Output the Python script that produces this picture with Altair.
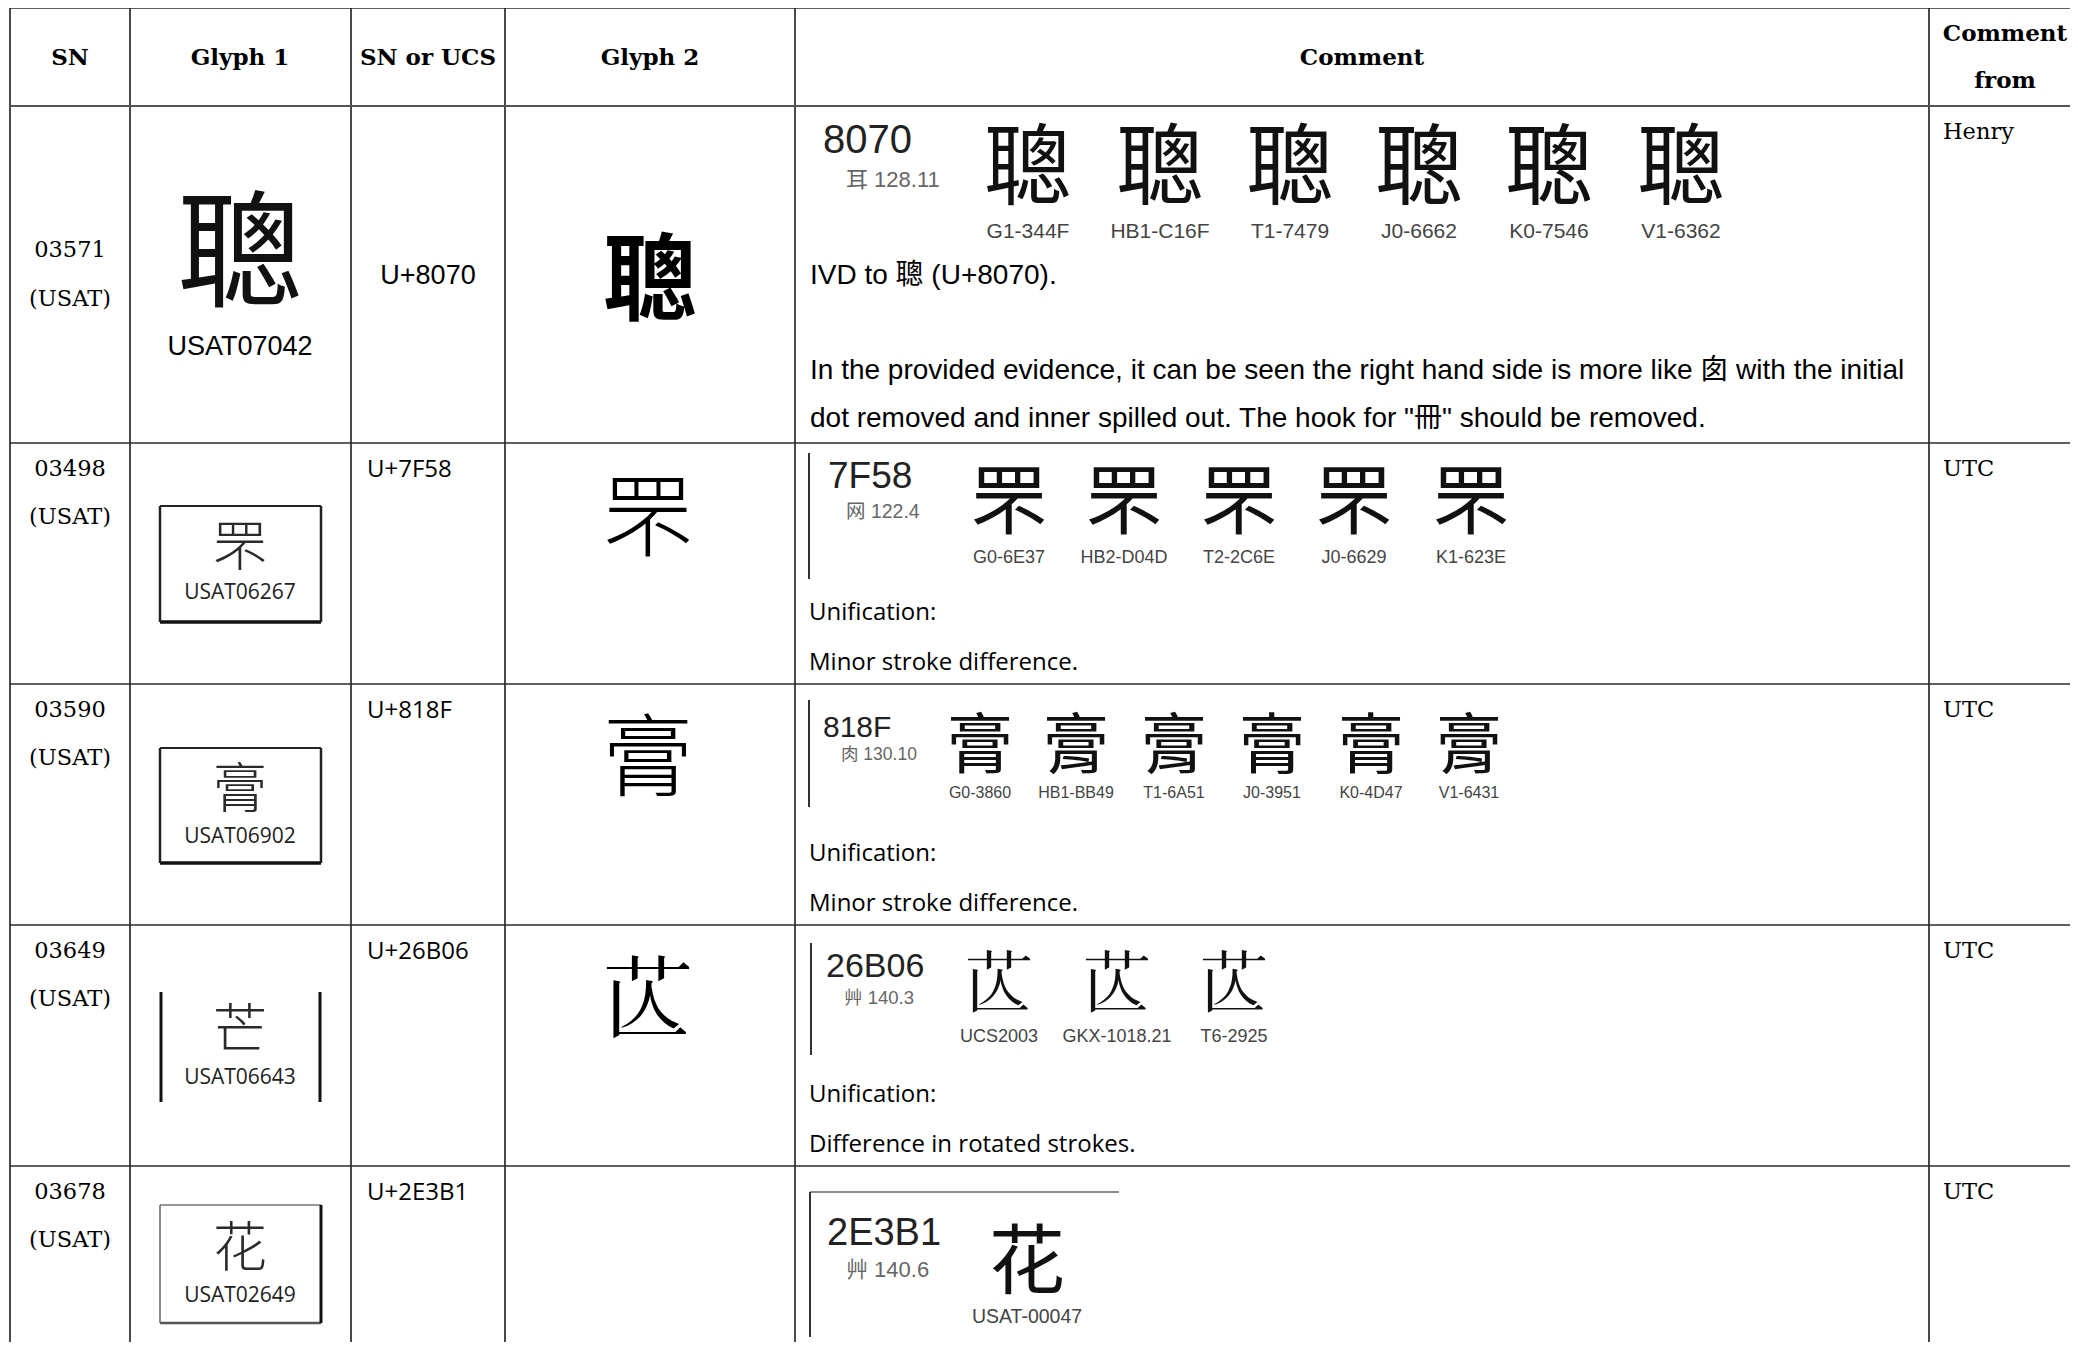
import altair as alt
import pandas as pd

W, H = 2062, 1334

# ---------------- table content ----------------
headers = ["SN", "Glyph 1", "SN or UCS", "Glyph 2", "Comment"]
header_last = ["Comment", "from"]
sn_codes = ["03571", "03498", "03590", "03649", "03678"]
sn_tag = "(USAT)"
glyph1_chars = ["聰", "罘", "膏", "芒", "花"]
glyph1_ids = ["USAT07042", "USAT06267", "USAT06902", "USAT06643", "USAT02649"]
ucs_codes = ["U+8070", "U+7F58", "U+818F", "U+26B06", "U+2E3B1"]
glyph2_chars = ["聰", "罘", "膏", chr(0x26B06), ""]
evid_codes = ["8070", "7F58", "818F", "26B06", "2E3B1"]
evid_radicals = ["耳 128.11", "网 122.4", "肉 130.10", "艸 140.3", "艸 140.6"]
evid_glyphs = ["聰", "罘", "膏", chr(0x26B06), "花"]
evid_sources = [
    ["G1-344F", "HB1-C16F", "T1-7479", "J0-6662", "K0-7546", "V1-6362"],
    ["G0-6E37", "HB2-D04D", "T2-2C6E", "J0-6629", "K1-623E"],
    ["G0-3860", "HB1-BB49", "T1-6A51", "J0-3951", "K0-4D47", "V1-6431"],
    ["UCS2003", "GKX-1018.21", "T6-2925"],
    ["USAT-00047"],
]
comment_row1 = [
    "IVD to 聰 (U+8070).",
    "In the provided evidence, it can be seen the right hand side is more like 囱 with the initial",
    'dot removed and inner spilled out. The hook for "冊" should be removed.',
]
comments_rest = [
    ["Unification:", "Minor stroke difference."],
    ["Unification:", "Minor stroke difference."],
    ["Unification:", "Difference in rotated strokes."],
    [],
]
comment_from = ["Henry", "UTC", "UTC", "UTC", "UTC"]

# ---------------- layout (page pixels) ----------------
col_edges = [10, 130, 351, 505, 795, 1929]
row_edges = [8, 106, 443, 684, 925, 1166]
col_centers = [70, 240, 428, 650, 1362]
ev_x = [
    [1028, 1160, 1290, 1419, 1549, 1681],
    [1009, 1124, 1239, 1354, 1471],
    [980, 1076, 1174, 1272, 1371, 1469],
    [999, 1117, 1234],
    [1027],
]
ev_glyph_y = [171, 505, 748, 988, 1265]
ev_label_y = [232, 558, 793, 1037, 1317]
ev_glyph_size = [88, 76, 66, 68, 76]
ev_label_size = [21, 18, 16, 18, 19.5]
ev_code_pos = [(823, 141, 40), (828, 477, 37), (823, 728, 30), (826, 967, 34), (827, 1234, 38)]
ev_rad_pos = [(846, 180, 22), (846, 512, 19.5), (841, 755, 17.5), (844, 998, 18.5), (846, 1270, 22)]
g2_off = [79, 78, 80, 80]

SANS = "Liberation Sans, Arial, Noto Sans CJK SC"
CAL = "Open Sans, Noto Sans CJK SC"
STYLES = {
    "head": ("DejaVu Serif", "bold", "center"),
    "serif_c": ("DejaVu Serif", "normal", "center"),
    "serif_l": ("DejaVu Serif", "normal", "left"),
    "arial_c": (SANS, "normal", "center"),
    "arial_l": (SANS, "normal", "left"),
    "cal_l": (CAL, "normal", "left"),
    "cal_c": (CAL, "normal", "center"),
    "cjk_sc": ("Noto Sans CJK SC", "normal", "center"),
    "cjk_light": ("Noto Sans CJK SC", 300, "center"),
    "cjk_tc": ("Noto Sans CJK TC", "normal", "center"),
    "cjk_jp": ("Noto Sans CJK JP", "normal", "center"),
    "cjk_kr": ("Noto Sans CJK KR", "normal", "center"),
    "cjk_bold": ("Noto Sans CJK TC", "bold", "center"),
}
src_font = {"G": "cjk_sc", "H": "cjk_tc", "T": "cjk_tc", "J": "cjk_jp",
            "K": "cjk_kr", "V": "cjk_tc", "U": "cjk_sc"}

items = []


def add(style, x, y, text, size, color="#000000"):
    items.append(dict(style=style, x=x, y=y, text=text, size=size, color=color))


# header
for cx, h in zip(col_centers, headers):
    add("head", cx, 58, h, 23)
add("head", 2005, 34, header_last[0], 23)
add("head", 2005, 81, header_last[1], 23)

for i in range(5):
    top = row_edges[i + 1]
    if i == 0:
        add("serif_c", 70, 250, sn_codes[i], 22.5)
        add("serif_c", 70, 299, sn_tag, 22.5)
        add("cjk_tc", 240, 259, glyph1_chars[i], 126, "#111111")
        add("arial_c", 240, 347, glyph1_ids[i], 27)
        add("arial_c", 428, 276, ucs_codes[i], 27)
        add("cjk_bold", 650, 285, glyph2_chars[i], 94)
        for j, line in enumerate(comment_row1):
            add("arial_l", 810, [276, 371, 419][j], line, 28)
    else:
        add("serif_c", 70, top + 26, sn_codes[i], 22.5)
        add("serif_c", 70, top + 74, sn_tag, 22.5)
        g_off, l_off = ([107, 150], [108, 153], [108, 153], [85, 130])[i - 1]
        add("cjk_light", 240, top + g_off, glyph1_chars[i], 54, "#2a2a2a")
        add("cal_c", 240, top + l_off, glyph1_ids[i], 21, "#222222")
        add("cal_l", 367, top + 27, ucs_codes[i], 24)
        if glyph2_chars[i]:
            add("cjk_light", 648, top + g2_off[i - 1], glyph2_chars[i], 90)
        for j, line in enumerate(comments_rest[i - 1]):
            add("cal_l", 809, top + [170, 220][j], line, 24)
    # evidence block
    cx, cy, cs = ev_code_pos[i]
    add("arial_l", cx, cy, evid_codes[i], cs, "#222222")
    rx, ry, rs = ev_rad_pos[i]
    add("arial_l", rx, ry, evid_radicals[i], rs, "#666666")
    for x, src in zip(ev_x[i], evid_sources[i]):
        add(src_font[src[0]], x, ev_glyph_y[i], evid_glyphs[i], ev_glyph_size[i], "#111111")
        add("arial_c", x, ev_label_y[i], src, ev_label_size[i], "#444444")
    add("serif_l", 1943, top + 26, comment_from[i], 22.5)

texts = pd.DataFrame(items)

# ---------------- lines ----------------
lines = []
for x in col_edges:
    lines.append(dict(x=x, x2=x, y=8, y2=1400, w=1.7, c="#2a2a2a"))
for k, y in enumerate(row_edges):
    lines.append(dict(x=10, x2=2100, y=y, y2=y, w=2.2 if k == 1 else 1.7,
                      c="#555555" if k == 1 else "#2a2a2a"))
# glyph-1 image frames
lines += [
    dict(x=160, x2=321, y=506, y2=506, w=2, c="#222222"),
    dict(x=160, x2=321, y=622, y2=622, w=3.5, c="#111111"),
    dict(x=160, x2=160, y=506, y2=622, w=2.5, c="#222222"),
    dict(x=321, x2=321, y=506, y2=622, w=2.5, c="#222222"),
    dict(x=160, x2=321, y=748, y2=748, w=2, c="#222222"),
    dict(x=160, x2=321, y=863, y2=863, w=3.5, c="#111111"),
    dict(x=160, x2=160, y=748, y2=863, w=2.5, c="#222222"),
    dict(x=321, x2=321, y=748, y2=863, w=2.5, c="#222222"),
    dict(x=161, x2=161, y=992, y2=1102, w=3, c="#111111"),
    dict(x=320, x2=320, y=992, y2=1102, w=3, c="#111111"),
    dict(x=160, x2=321, y=1205, y2=1205, w=1.5, c="#777777"),
    dict(x=160, x2=321, y=1323, y2=1323, w=2.5, c="#555555"),
    dict(x=160, x2=160, y=1205, y2=1323, w=1.5, c="#666666"),
    dict(x=321, x2=321, y=1205, y2=1323, w=3, c="#111111"),
    # evidence frames
    dict(x=809, x2=809, y=453, y2=579, w=2, c="#333333"),
    dict(x=809, x2=809, y=700, y2=807, w=2, c="#333333"),
    dict(x=811, x2=811, y=943, y2=1055, w=2, c="#333333"),
    dict(x=810, x2=1119, y=1192, y2=1192, w=1.5, c="#666666"),
    dict(x=810, x2=810, y=1192, y2=1337, w=2, c="#333333"),
]
lines = pd.DataFrame(lines)

xs = alt.Scale(domain=[8, 8 + W], nice=False, zero=False)
ys = alt.Scale(domain=[8, 8 + H], nice=False, zero=False, reverse=True)

rule_layer = alt.Chart(lines).mark_rule().encode(
    x=alt.X("x:Q", scale=xs, axis=None),
    x2="x2:Q",
    y=alt.Y("y:Q", scale=ys, axis=None),
    y2="y2:Q",
    strokeWidth=alt.StrokeWidth("w:Q", scale=None, legend=None),
    color=alt.Color("c:N", scale=None, legend=None),
)

layers = [rule_layer]
for style, grp in texts.groupby("style"):
    font, weight, align = STYLES[style]
    layers.append(
        alt.Chart(grp).mark_text(font=font, fontWeight=weight, align=align, baseline="middle").encode(
            x=alt.X("x:Q", scale=xs, axis=None),
            y=alt.Y("y:Q", scale=ys, axis=None),
            text="text:N",
            size=alt.Size("size:Q", scale=None, legend=None),
            color=alt.Color("color:N", scale=None, legend=None),
        )
    )

chart = alt.layer(*layers).properties(
    width=W, height=H, padding=0, autosize=alt.AutoSizeParams(type="none"), background="white"
).configure_view(stroke=None)

chart.save("out.html", embed_options={"renderer": "svg", "actions": False})
